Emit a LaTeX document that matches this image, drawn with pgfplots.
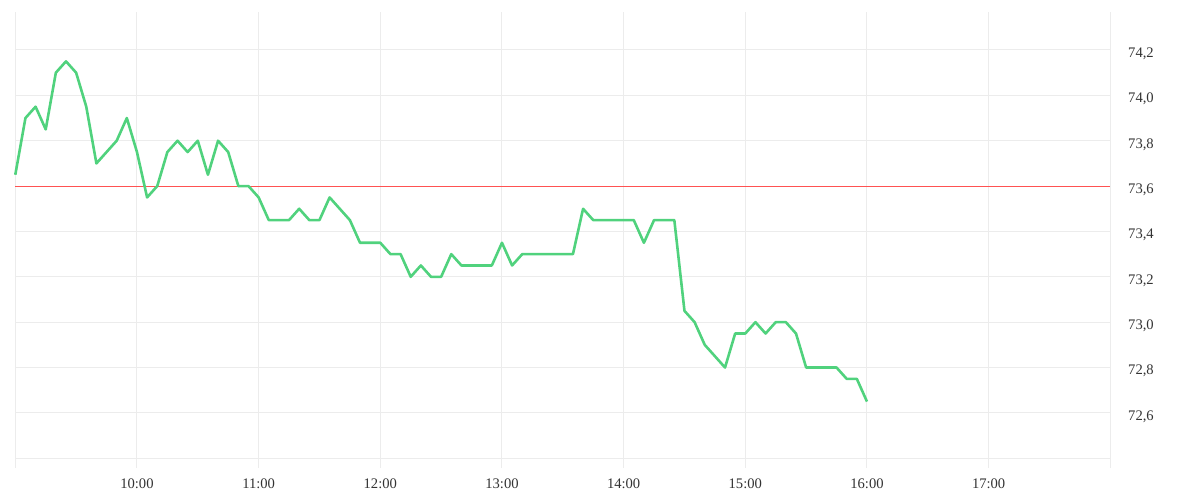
\documentclass[border=0pt]{standalone}
\usepackage{pgfplots}
\pgfplotsset{compat=1.18}
\usepackage{fontspec}
\setmainfont{Liberation Serif}
\definecolor{gridc}{RGB}{236,236,236}
\definecolor{linec}{RGB}{80,210,125}
\definecolor{refc}{RGB}{255,82,82}
\definecolor{txt}{RGB}{51,51,51}
\begin{document}
\begin{tikzpicture}[x=1pt,y=1pt]
\path[use as bounding box] (0,0) rectangle (600,250);
\begin{axis}[
  at={(7.65pt,16pt)}, anchor=south west,
  scale only axis, width=547.5pt, height=228pt,
  xmin=0, xmax=540, ymin=72.357, ymax=74.3675,
  xtick={0,60,120,180,240,300,360,420,480,540},
  xticklabels={,10:00,11:00,12:00,13:00,14:00,15:00,16:00,17:00,},
  ytick={72.4,72.6,72.8,73.0,73.2,73.4,73.6,73.8,74.0,74.2},
  yticklabels={{},{72,6},{72,8},{73,0},{73,2},{73,4},{73,6},{73,8},{74,0},{74,2}},
  yticklabel pos=right,
  grid=major, major grid style={gridc, line width=0.5pt},
  axis line style={draw=none},
  major tick length=0pt, tick style={draw=none},
  ticklabel style={font=\fontsize{7.3}{8.5}\selectfont, text=txt, inner sep=0pt},
  xticklabel style={anchor=north, yshift=-5pt},
  yticklabel style={anchor=west, xshift=8.75pt, yshift=-1.8pt},
  clip=false,
]
\addplot[refc, line width=0.5pt] coordinates {(0,73.6) (540,73.6)};
\addplot[linec, line width=1.3pt, line join=round] table {
x y
0 73.65
5 73.9
10 73.95
15 73.85
20 74.1
25 74.15
30 74.1
35 73.95
40 73.7
45 73.75
50 73.8
55 73.9
60 73.75
65 73.55
70 73.6
75 73.75
80 73.8
85 73.75
90 73.8
95 73.65
100 73.8
105 73.75
110 73.6
115 73.6
120 73.55
125 73.45
130 73.45
135 73.45
140 73.5
145 73.45
150 73.45
155 73.55
160 73.5
165 73.45
170 73.35
175 73.35
180 73.35
185 73.3
190 73.3
195 73.2
200 73.25
205 73.2
210 73.2
215 73.3
220 73.25
225 73.25
230 73.25
235 73.25
240 73.35
245 73.25
250 73.3
255 73.3
260 73.3
265 73.3
270 73.3
275 73.3
280 73.5
285 73.45
290 73.45
295 73.45
300 73.45
305 73.45
310 73.35
315 73.45
320 73.45
325 73.45
330 73.05
335 73.0
340 72.9
345 72.85
350 72.8
355 72.95
360 72.95
365 73.0
370 72.95
375 73.0
380 73.0
385 72.95
390 72.8
395 72.8
400 72.8
405 72.8
410 72.75
415 72.75
420 72.65
};
\end{axis}
\end{tikzpicture}
\end{document}
